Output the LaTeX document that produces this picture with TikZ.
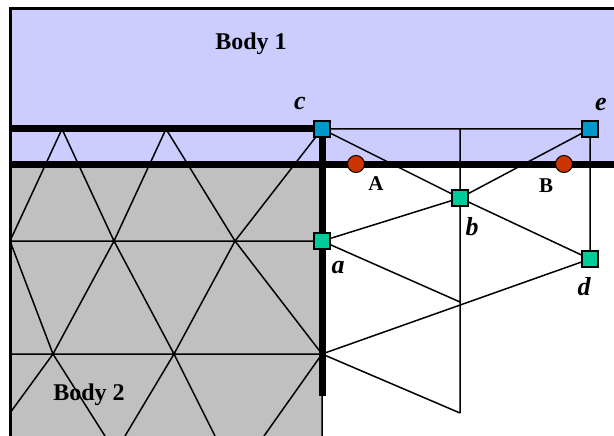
\documentclass[tikz,border=0pt]{standalone}
\usepackage{fontspec}
\setmainfont{Liberation Serif}
\definecolor{bodyone}{RGB}{204,204,255}
\definecolor{bodytwo}{RGB}{192,192,192}
\definecolor{teal1}{RGB}{0,204,153}
\definecolor{blue1}{RGB}{0,153,204}
\definecolor{red1}{RGB}{204,51,0}
\tikzset{
  thin line/.style={draw=black,line width=1.5pt},
  thick bar/.style={draw=black,line width=7pt},
  sq/.style={draw=black,line width=1.5pt,minimum size=16pt,inner sep=0pt,rectangle},
  sqg/.style={sq,fill=teal1},
  sqb/.style={sq,fill=blue1},
  pin/.style={circle,draw=black,line width=1pt,fill=red1,minimum size=17pt,inner sep=0pt},
  bodytxt/.style={font=\fontsize{24}{24}\selectfont\bfseries,inner sep=0pt},
  ptlabel/.style={font=\fontsize{26}{26}\selectfont\bfseries\itshape,inner sep=0pt},
  pinlabel/.style={font=\fontsize{21}{21}\selectfont\bfseries,inner sep=0pt}
}
\begin{document}
\begin{tikzpicture}[x=1pt,y=-1pt]
\useasboundingbox (0,0) rectangle (614,436);
\fill[white] (0,0) rectangle (614,436);
% bodies
\fill[bodyone] (10,8) rectangle (614,164);
\fill[bodytwo] (10,164) rectangle (322,436);
\draw[black,line width=2.5pt] (10.5,436) -- (10.5,8.5) -- (614,8.5);
% named mesh points
\coordinate (t1) at (62,129);
\coordinate (t2) at (166,129);
\coordinate (c0) at (322,129);
\coordinate (r1) at (10,241);
\coordinate (r2) at (114,241);
\coordinate (r3) at (235,241);
\coordinate (a0) at (322,241);
\coordinate (s1) at (10,354);
\coordinate (s2) at (53,354);
\coordinate (s3) at (174,354);
\coordinate (s4) at (322,354);
\coordinate (u1) at (10,413);
\coordinate (u2) at (105,436);
\coordinate (u3) at (125,436);
\coordinate (u4) at (215,436);
\coordinate (u5) at (264,436);
\coordinate (u6) at (322,436);
\coordinate (v0) at (460,129);
\coordinate (v1) at (460,302);
\coordinate (v2) at (460,413);
\coordinate (e0) at (590,129);
\coordinate (b0) at (460,198);
\coordinate (d0) at (590,259);
\coordinate (h0) at (10,129);
\coordinate (h1) at (10,164);
\coordinate (h2) at (614,164);
\coordinate (k0) at (322,396);
% mesh
\draw[thin line] (t1)--(r1) (t1)--(r2) (t2)--(r2) (t2)--(r3) (c0)--(r3)
  (r1)--(a0) (s1)--(s4)
  (r1)--(s2) (r2)--(s2) (r2)--(s3) (r3)--(s3) (r3)--(s4)
  (s2)--(u1) (s2)--(u2) (s3)--(u3) (s3)--(u4) (s4)--(u5) (s4)--(u6);
\draw[thin line] (c0)--(e0) (v0)--(v2) (c0)--(b0) (e0)--(b0) (e0)--(d0)
  (a0)--(b0) (b0)--(d0) (a0)--(v1) (s4)--(d0) (s4)--(v2);
% thick bars
\draw[thick bar] (h0)--(c0);
\draw[thick bar] (h1)--(h2);
\draw[thick bar] (c0)--(k0);
% mesh lines stay visible over the top bar crossing only where reference shows them
% markers
\node[sqb] (c) at (c0) {};
\node[sqb] (e) at (e0) {};
\node[sqg] (a) at (a0) {};
\node[sqg] (b) at (b0) {};
\node[sqg] (d) at (d0) {};
\node[pin] (A) at (356,164) {};
\node[pin] (B) at (564,164) {};
% labels
\node[bodytxt] (body1) at (251,44) {Body 1};
\node[bodytxt] (body2) at (89,395) {Body 2};
\node[ptlabel] (lc) at (300,104) {c};
\node[ptlabel] (le) at (601,105) {e};
\node[ptlabel] (la) at (338,268) {a};
\node[ptlabel] (lb) at (472,227) {b};
\node[ptlabel] (ld) at (584,287) {d};
\node[pinlabel] (lA) at (376,184) {A};
\node[pinlabel] (lB) at (546,186) {B};
\end{tikzpicture}
\end{document}
